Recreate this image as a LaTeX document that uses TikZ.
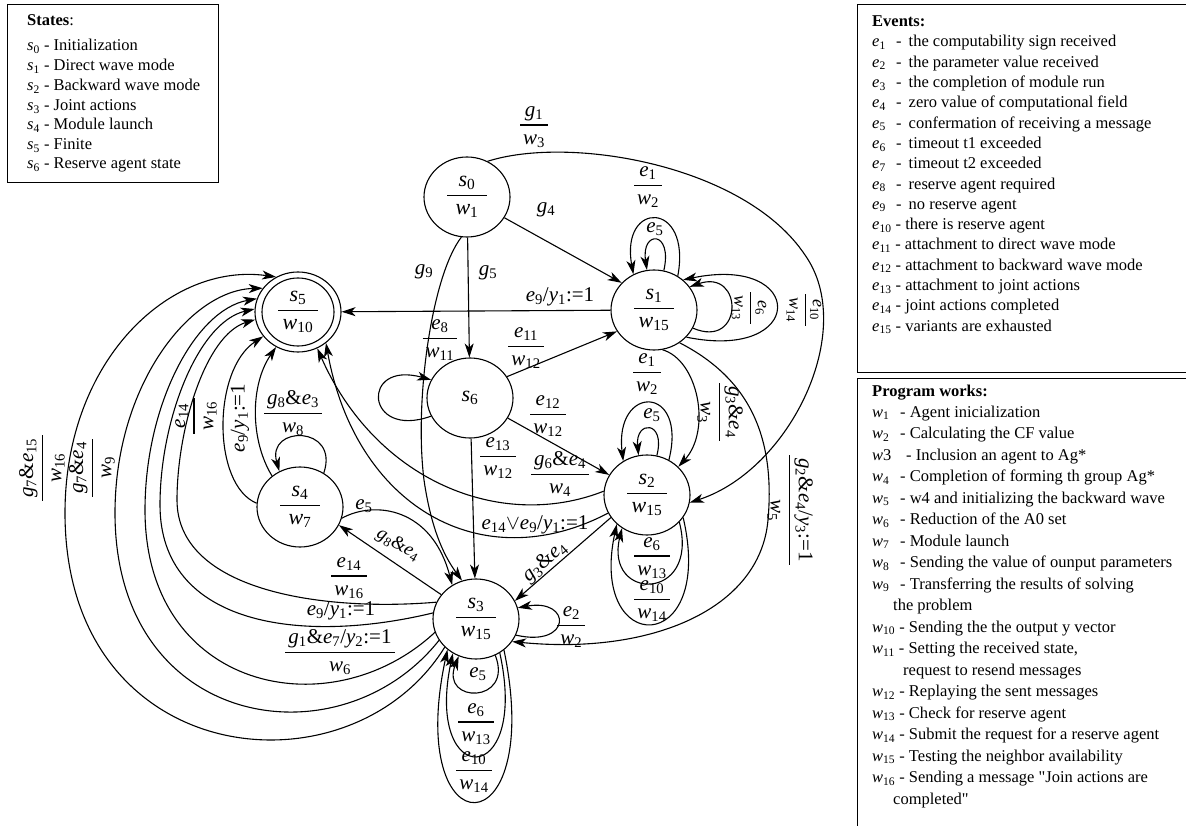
\documentclass[tikz,border=0pt]{standalone}
\usepackage{amsmath}
\usepackage{fontspec}
\setmainfont{Liberation Serif}
\usetikzlibrary{arrows.meta,shapes.geometric}

% italic symbol with an upright index
\newcommand\vr[2]{\textit{#1}\textsubscript{#2}}
% fraction inside a state
\newcommand\nfr[2]{$\genfrac{}{}{1.2pt}{0}{\hbox to 40pt{\hss#1\hss}}{\hbox to 40pt{\hss#2\hss}}$}
% fraction used as a transition label
\newcommand\lfr[2]{$\genfrac{}{}{1.1pt}{0}{\hbox{\kern3pt#1\kern3pt}}{\hbox{\kern3pt#2\kern3pt}}$}

\tikzset{
  stnode/.style={draw, ellipse, line width=1.1pt, minimum width=86pt, minimum height=80pt,
    inner sep=0pt, font=\fontsize{22}{26}\selectfont},
  arr/.style={-{Stealth[length=14pt,width=9pt,inset=4pt]}, line width=1.1pt},
  lab/.style={font=\fontsize{21}{25}\selectfont, inner sep=1pt},
  slab/.style={font=\fontsize{18}{21}\selectfont, inner sep=1pt},
  leg/.style={anchor=base west, inner sep=0pt, font=\fontsize{16.5}{19}\selectfont},
  legbox/.style={line width=1pt}
}

\begin{document}
\begin{tikzpicture}[x=1pt,y=-1pt]
\useasboundingbox (0,0) rectangle (1186,826);

% ---------- legend: states ----------
\draw[legbox] (7,5) rectangle (218,183);
\node[leg] (st0) at (27,26) {\textbf{States}:};
\node[leg] (st1) at (27,51) {\vr{s}{0} - Initialization};
\node[leg] (st2) at (27,71) {\vr{s}{1} - Direct wave mode};
\node[leg] (st3) at (27,91) {\vr{s}{2} - Backward wave mode};
\node[leg] (st4) at (27,111) {\vr{s}{3} - Joint actions};
\node[leg] (st5) at (27,130) {\vr{s}{4} - Module launch};
\node[leg] (st6) at (27,150) {\vr{s}{5} - Finite};
\node[leg] (st7) at (27,169) {\vr{s}{6} - Reserve agent state};

% ---------- legend: events ----------
\draw[legbox] (1190,5) -- (857,5) -- (857,372) -- (1190,372);
\node[leg] (ev0) at (872,27) {\textbf{Events:}};
\node[leg] (ev1) at (872,47.0) {\makebox[24pt][l]{\vr{e}{1}}-\hspace{7pt}the computability sign received};
\node[leg] (ev2) at (872,67.3) {\makebox[24pt][l]{\vr{e}{2}}-\hspace{7pt}the parameter value received};
\node[leg] (ev3) at (872,87.6) {\makebox[24pt][l]{\vr{e}{3}}-\hspace{7pt}the completion of module run};
\node[leg] (ev4) at (872,107.9) {\makebox[24pt][l]{\vr{e}{4}}-\hspace{7pt}zero value of computational field};
\node[leg] (ev5) at (872,128.2) {\makebox[24pt][l]{\vr{e}{5}}-\hspace{7pt}confermation of receiving a message};
\node[leg] (ev6) at (872,148.5) {\makebox[24pt][l]{\vr{e}{6}}-\hspace{7pt}timeout t1 exceeded};
\node[leg] (ev7) at (872,168.8) {\makebox[24pt][l]{\vr{e}{7}}-\hspace{7pt}timeout t2 exceeded};
\node[leg] (ev8) at (872,189.1) {\makebox[24pt][l]{\vr{e}{8}}-\hspace{7pt}reserve agent required};
\node[leg] (ev9) at (872,209.4) {\makebox[24pt][l]{\vr{e}{9}}-\hspace{7pt}no reserve agent};
\node[leg] (ev10) at (872,229.7) {\vr{e}{10} - there is reserve agent};
\node[leg] (ev11) at (872,250.0) {\vr{e}{11} - attachment to direct wave mode};
\node[leg] (ev12) at (872,270.3) {\vr{e}{12} - attachment to backward wave mode};
\node[leg] (ev13) at (872,290.6) {\vr{e}{13} - attachment to joint actions};
\node[leg] (ev14) at (872,310.9) {\vr{e}{14} - joint actions completed};
\node[leg] (ev15) at (872,331.2) {\vr{e}{15} - variants are exhausted};

% ---------- legend: program works ----------
\draw[legbox] (1190,378) -- (857,378) -- (857,830);
\node[leg] (pw0) at (872,396) {\textbf{Program works:}};
\node[leg] (pw1) at (872,417.0) {\makebox[28pt][l]{\vr{w}{1}}- Agent inicialization};
\node[leg] (pw2) at (872,438.5) {\makebox[28pt][l]{\vr{w}{2}}- Calculating the CF value};
\node[leg] (pw3) at (872,460.0) {\makebox[34pt][l]{\textit{w}3}- Inclusion an agent to Ag*};
\node[leg] (pw4) at (872,481.5) {\makebox[28pt][l]{\vr{w}{4}}- Completion of forming th group Ag*};
\node[leg] (pw5) at (872,503.0) {\makebox[28pt][l]{\vr{w}{5}}- w4 and initializing the backward wave};
\node[leg] (pw6) at (872,524.5) {\makebox[28pt][l]{\vr{w}{6}}- Reduction of the A0 set};
\node[leg] (pw7) at (872,546.0) {\makebox[28pt][l]{\vr{w}{7}}- Module launch};
\node[leg] (pw8) at (872,567.5) {\makebox[28pt][l]{\vr{w}{8}}- Sending the value of ounput parameters};
\node[leg] (pw9) at (872,589.0) {\makebox[28pt][l]{\vr{w}{9}}- Transferring the results of solving};
\node[leg] (pw9b) at (893,610.5) {the problem};
\node[leg] (pw10) at (872,632.0) {\vr{w}{10} - Sending the the output y vector};
\node[leg] (pw11) at (872,653.5) {\vr{w}{11} - Setting the received state,};
\node[leg] (pw11b) at (903,675.0) {request to resend messages};
\node[leg] (pw12) at (872,696.5) {\vr{w}{12} - Replaying the sent messages};
\node[leg] (pw13) at (872,718.0) {\vr{w}{13} - Check for reserve agent};
\node[leg] (pw14) at (872,739.5) {\vr{w}{14} - Submit the request for a reserve agent};
\node[leg] (pw15) at (872,761.0) {\vr{w}{15} - Testing the neighbor availability};
\node[leg] (pw16) at (872,782.5) {\vr{w}{16} - Sending a message \textquotedbl Join actions are};
\node[leg] (pw16b) at (893,804.0) {completed\textquotedbl};

% ---------- states ----------
\node[stnode] (s0) at (467,197) {\nfr{\vr{s}{0}}{\vr{w}{1}}};
\node[stnode] (s1) at (654,310) {\nfr{\vr{s}{1}}{\vr{w}{15}}};
\node[stnode] (s2) at (647,495) {\nfr{\vr{s}{2}}{\vr{w}{15}}};
\node[stnode] (s3) at (476,619) {\nfr{\vr{s}{3}}{\vr{w}{15}}};
\node[stnode] (s4) at (300,507) {\nfr{\vr{s}{4}}{\vr{w}{7}}};
\node[stnode] (s5) at (298,312) {\nfr{\vr{s}{5}}{\vr{w}{10}}};
\node[stnode] (s6) at (470,398) {\vr{s}{6}};
\draw[line width=1.1pt] (s5.center) ellipse [x radius=36, y radius=34];

% ---------- transitions from s0 ----------
\draw[arr] (s0) -- (s1.140);
\draw[arr] (s0.60) .. controls (570,135) and (745,165) .. (805,255)
  .. controls (858,330) and (790,470) .. (s2.-10);
\draw[arr] (s0) -- (s6);
\draw[arr] (s0.262) .. controls (432,275) and (414,400) .. (424,480)
  .. controls (432,535) and (447,560) .. (s3.110);

% ---------- transitions from s6 ----------
\draw[arr] (s6.205) .. controls (365,440) and (360,360) .. (s6.155);
\draw[arr] (s6.30) -- (s1.210);
\draw[arr] (s6.-28) -- (s2.152);
\draw[arr] (s6) -- (s3);

% ---------- transitions from s1 ----------
\draw[arr] (s1) -- (s5);
\draw[arr] (s1.55) .. controls (692,200) and (620,200) .. (s1.120);
\draw[arr] (s1.76) .. controls (673,230) and (641,230) .. (s1.100);
\draw[arr] (s1.-25) .. controls (744,350) and (744,268) .. (s1.33);
\draw[arr] (s1.-40) .. controls (807,362) and (807,254) .. (s1.46);
\draw[arr] (s1.-78) .. controls (698,360) and (712,430) .. (s2.42);
\draw[arr] (s1.-52) .. controls (752,380) and (775,440) .. (768,520)
  .. controls (760,610) and (650,655) .. (s3.-32);

% ---------- transitions from s2 ----------
\draw[arr] (s2.58) .. controls (688,384) and (614,384) .. (s2.125);
\draw[arr] (s2.76) .. controls (666,420) and (635,420) .. (s2.102);
\draw[arr] (s2.-40) .. controls (700,602) and (604,602) .. (s2.-127);
\draw[arr] (s2.-32) .. controls (716,658) and (588,658) .. (s2.-136);
\draw[arr] (s2.-148) -- (s3.25);
\draw[arr] (s2.175) .. controls (500,532) and (375,480) .. (s5.-62);
\draw[arr] (s2.-155) .. controls (480,580) and (355,505) .. (s5.-48);

% ---------- transitions from s3 ----------
\draw[arr] (s3.145) -- (s4.-25);
\draw[arr] (s3.-62) .. controls (514,704) and (440,704) .. (s3.-115);
\draw[arr] (s3.-55) .. controls (530,790) and (424,790) .. (s3.-124);
\draw[arr] (s3.-48) .. controls (546,852) and (404,852) .. (s3.-133);
\draw[arr] (s3.-22) .. controls (572,648) and (572,598) .. (s3.15);
\draw[arr] (s3.157) .. controls (320,612) and (177,590) .. (177,500)
  .. controls (177,430) and (205,335) .. (s5.190);
\draw[arr] (s3.172) .. controls (300,645) and (160,625) .. (160,505)
  .. controls (160,420) and (198,322) .. (s5.176);
\draw[arr] (s3.198) .. controls (330,730) and (145,690) .. (145,510)
  .. controls (145,405) and (195,310) .. (s5.162);
\draw[arr] (s3.210) .. controls (340,765) and (115,730) .. (115,513)
  .. controls (115,385) and (190,290) .. (s5.146);
\draw[arr] (s3.222) .. controls (350,800) and (65,770) .. (65,513)
  .. controls (65,360) and (170,262) .. (s5.122);

% ---------- transitions from s4 ----------
\draw[arr] (s4.-15) .. controls (375,500) and (432,508) .. (s3.125);
\draw[arr] (s4.55) .. controls (340,425) and (266,425) .. (s4.120);
\draw[arr] (s4.175) .. controls (212,485) and (212,370) .. (s5.215);
\draw[arr] (s4.132) .. controls (250,440) and (250,385) .. (s5.238);

% ---------- transition labels ----------
\node[lab] (l01) at (534,127) {\lfr{\vr{g}{1}}{\vr{w}{3}}};
\node[lab] (l02) at (546,210) {\vr{g}{4}};
\node[lab] (l03) at (488,273) {\vr{g}{5}};
\node[lab] (l04) at (424,272) {\vr{g}{9}};
\node[lab] (l05) at (648,187) {\lfr{\vr{e}{1}}{\vr{w}{2}}};
\node[lab] (l06) at (655,229) {\vr{e}{5}};
\node[lab] (l07) at (560,297) {\vr{e}{9}/\vr{y}{1}:=1};
\node[lab] (l08) at (440,340) {\lfr{\vr{e}{8}}{\vr{w}{11}}};
\node[lab] (l09) at (526,348) {\lfr{\vr{e}{11}}{\vr{w}{12}}};
\node[lab] (l10) at (548,416) {\lfr{\vr{e}{12}}{\vr{w}{12}}};
\node[lab] (l11) at (498,458) {\lfr{\vr{e}{13}}{\vr{w}{12}}};
\node[slab, rotate=-90] (l12) at (749,308) {\lfr{\vr{e}{6}}{\vr{w}{13}}};
\node[slab, rotate=-90] (l13) at (804,310) {\lfr{\vr{e}{10}}{\vr{w}{14}}};
\node[lab, rotate=-90] (l14) at (720,412) {\lfr{\vr{g}{3}\&\vr{e}{4}}{\vr{w}{3}}};
\node[lab, rotate=-90] (l15) at (790,510) {\lfr{\vr{g}{2}\&\vr{e}{4}/\vr{y}{3}:=1}{\vr{w}{5}}};
\node[lab] (l16) at (647,374) {\lfr{\vr{e}{1}}{\vr{w}{2}}};
\node[lab] (l17) at (652,415) {\vr{e}{5}};
\node[lab] (l18) at (560,474) {\lfr{\vr{g}{6}\&\vr{e}{4}}{\vr{w}{4}}};
\node[lab] (l19) at (535,525) {\vr{e}{14}$\vee$\vr{e}{9}/\vr{y}{1}:=1};
\node[lab] (l20) at (652,558) {\lfr{\vr{e}{6}}{\vr{w}{13}}};
\node[lab] (l21) at (652,601) {\lfr{\vr{e}{10}}{\vr{w}{14}}};
\node[lab, rotate=41] (l22) at (545,562) {\vr{g}{3}\&\vr{e}{4}};
\node[lab, anchor=west] (l23) at (555,627) {\lfr{\vr{e}{2}}{\vr{w}{2}}};
\node[lab] (l24) at (478,674) {\vr{e}{5}};
\node[lab] (l25) at (476,724) {\lfr{\vr{e}{6}}{\vr{w}{13}}};
\node[lab] (l26) at (474,772) {\lfr{\vr{e}{10}}{\vr{w}{14}}};
\node[lab] (l27) at (349,578) {\lfr{\vr{e}{14}}{\vr{w}{16}}};
\node[lab] (l28) at (341,611) {\vr{e}{9}/\vr{y}{1}:=1};
\node[lab] (l29) at (340,652) {\lfr{\vr{g}{1}\&\vr{e}{7}/\vr{y}{2}:=1}{\vr{w}{6}}};
\node[lab, rotate=-30, font=\fontsize{19}{22}\selectfont] (l30) at (398,545) {\vr{g}{8}\&\vr{e}{4}};
\node[lab] (l31) at (364,506) {\vr{e}{5}};
\node[lab] (l32) at (293,413) {\lfr{\vr{g}{8}\&\vr{e}{3}}{\vr{w}{8}}};
\node[lab, rotate=90] (l33) at (196,416) {\lfr{\vr{e}{14}}{\vr{w}{16}}};
\node[lab, rotate=90] (l34) at (240,418) {\vr{e}{9}/\vr{y}{1}:=1};
\node[lab, rotate=90] (l35) at (42,468) {\lfr{\vr{g}{7}\&\vr{e}{15}}{\vr{w}{16}}};
\node[lab, rotate=90] (l36) at (92,468) {\lfr{\vr{g}{7}\&\vr{e}{4}}{\vr{w}{9}}};
\end{tikzpicture}
\end{document}
